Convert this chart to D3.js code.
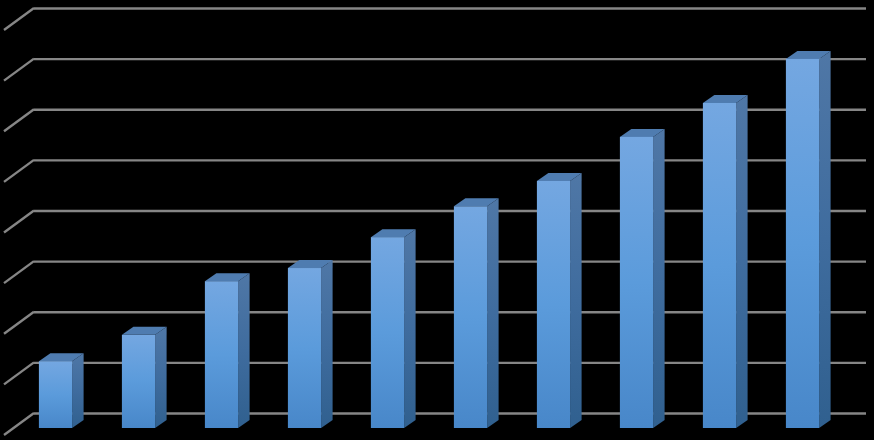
<!DOCTYPE html>
<html>
<head>
<meta charset="utf-8">
<script src="https://d3js.org/d3.v7.min.js"></script>
<style>
html, body { margin: 0; padding: 0; background: #000; overflow: hidden; }
svg { display: block; }
</style>
</head>
<body>
<div id="chart-area"></div>
<script>
// the reference shows no labels, so categories are just bar numbers
const categories = [1, 2, 3, 4, 5, 6, 7, 8, 9, 10];
const values = [1.32, 1.84, 2.9, 3.16, 3.77, 4.38, 4.88, 5.75, 6.42, 7.29];
const ticks = [0, 1, 2, 3, 4, 5, 6, 7, 8];

const width = 874, height = 440;

// back wall of the 3D plot
const wall = { left: 34, right: 864, top: 8, bottom: 413 };
// side wall runs down-left from the back wall
const sideWall = { dx: -30, dy: 22 };
// bars stand part way along the floor
const barShift = { dx: -20, dy: 15 };
const barDepth = { dx: 11.5, dy: -8 };

const svg = d3.select('#chart-area').append('svg')
	.attr('width', width)
	.attr('height', height);

const x = d3.scaleBand()
	.domain(categories)
	.range([wall.left, wall.right])
	.paddingInner(0.6)
	.paddingOuter(0.3);

const y = d3.scaleLinear()
	.domain([0, 8])
	.range([wall.bottom, wall.top]);

// gradients
const defs = svg.append('defs');
function addGradient(id, stops) {
	const grad = defs.append('linearGradient')
		.attr('id', id)
		.attr('x1', 0).attr('y1', 0).attr('x2', 0).attr('y2', 1);
	stops.forEach((c, i) => {
		grad.append('stop')
			.attr('offset', i / (stops.length - 1))
			.attr('stop-color', c);
	});
}
addGradient('front', ['#74a7e1', '#5b9bdb', '#4887c9']);
addGradient('side', ['#4f77a6', '#3f6c9e', '#30608f']);

// gridlines on the back wall
const yAxis = d3.axisRight(y)
	.tickValues(ticks)
	.tickSize(wall.right - wall.left + 2)
	.tickFormat('');

const axisG = svg.append('g')
	.attr('class', 'y-axis')
	.attr('transform', 'translate(' + wall.left + ', 0)')
	.call(yAxis);
axisG.select('.domain').remove();
axisG.selectAll('line')
	.attr('stroke', '#868686')
	.attr('stroke-width', 2.4);

// diagonal part of the gridlines on the side wall
svg.append('g').selectAll('line')
	.data(ticks)
	.enter()
	.append('line')
		.attr('x1', wall.left)
		.attr('y1', d => y(d))
		.attr('x2', wall.left + sideWall.dx)
		.attr('y2', d => y(d) + sideWall.dy)
		.attr('stroke', '#868686')
		.attr('stroke-width', 2.4);

const data = categories.map((c, i) => ({ cat: c, value: values[i] }));

const bars = svg.append('g').selectAll('g')
	.data(data)
	.enter()
	.append('g')
		.attr('class', 'bar');

const barLeft = d => x(d.cat) + barShift.dx;
const barRight = d => barLeft(d) + x.bandwidth();
const barTop = d => y(d.value) + barShift.dy;
const barBase = y(0) + barShift.dy;

// side face
bars.append('path')
	.attr('fill', 'url(#side)')
	.attr('d', d => 'M' + barRight(d) + ',' + barTop(d) +
		'L' + (barRight(d) + barDepth.dx) + ',' + (barTop(d) + barDepth.dy) +
		'L' + (barRight(d) + barDepth.dx) + ',' + (barBase + barDepth.dy) +
		'L' + barRight(d) + ',' + barBase + 'Z');

// top face
bars.append('path')
	.attr('fill', '#4f7cb0')
	.attr('d', d => 'M' + barLeft(d) + ',' + barTop(d) +
		'L' + (barLeft(d) + barDepth.dx) + ',' + (barTop(d) + barDepth.dy) +
		'L' + (barRight(d) + barDepth.dx) + ',' + (barTop(d) + barDepth.dy) +
		'L' + barRight(d) + ',' + barTop(d) + 'Z');

// front face
bars.append('rect')
	.attr('fill', 'url(#front)')
	.attr('x', barLeft)
	.attr('y', barTop)
	.attr('width', x.bandwidth())
	.attr('height', d => barBase - barTop(d));
</script>
</body>
</html>
